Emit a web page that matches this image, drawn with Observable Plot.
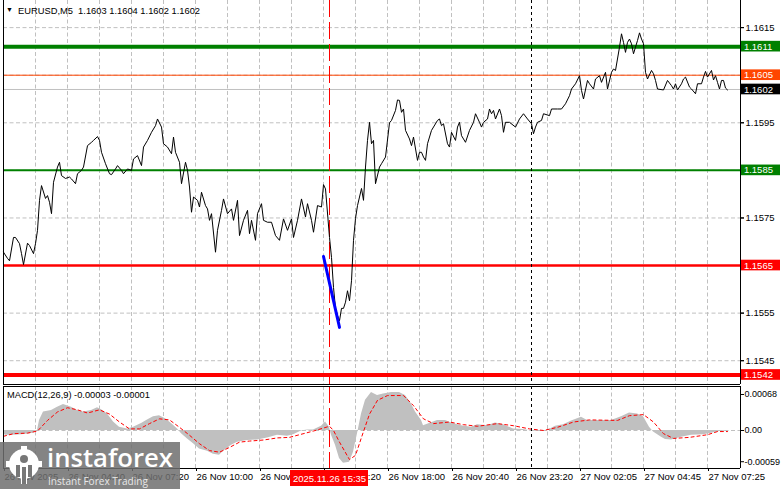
<!DOCTYPE html>
<html><head><meta charset="utf-8">
<script src="https://cdn.jsdelivr.net/npm/d3@7"></script>
<script src="https://cdn.jsdelivr.net/npm/@observablehq/plot@0.6"></script>
<style>
html,body{margin:0;padding:0;background:#fff;}
#wrap{position:relative;width:781px;height:489px;overflow:hidden;background:#fff;font-family:"Liberation Sans",Arial,sans-serif;color:#000;}
#wrap svg{position:absolute;left:0;}
.ttl{position:absolute;white-space:pre;line-height:12px;font-family:"Liberation Sans",Arial,sans-serif;}
#wm{position:absolute;left:0;top:442px;width:180px;height:47px;background:rgba(110,110,110,0.85);}
#wm .big{position:absolute;left:47px;top:-4px;font-family:"Open Sans",sans-serif;font-weight:600;color:#fff;white-space:pre;line-height:40px;}
#wm .small{position:absolute;left:48px;top:32px;font-family:"Open Sans",sans-serif;color:#e8e8e8;white-space:pre;line-height:14px;}
</style></head>
<body><div id="wrap"></div>
<script>
// ---------- data ----------
const symbol = "EURUSD,M5";
const ohlc = ["1.1603", "1.1604", "1.1602", "1.1602"];
const macdName = "MACD(12,26,9)";
const macdLast = ["-0.00003", "-0.00001"];

// close prices by bar index (5-minute bars)
const price = [
[0,1.15678],[2,1.15665],[3,1.15660],[5,1.15709],[6,1.15709],[8,1.15696],[9,1.15675],[10,1.15652],[12,1.15697],[13,1.15692],[15,1.15675],[16,1.15696],[17,1.15724],[18,1.15787],[19,1.15818],[21,1.15791],[22,1.15797],[23,1.15783],[24,1.15759],[25,1.15825],[27,1.15857],[28,1.15867],[29,1.15839],[31,1.15833],[33,1.15836],[34,1.15832],[36,1.15822],[37,1.15843],[39,1.15850],[40,1.15857],[42,1.15902],[44,1.15909],[45,1.15913],[47,1.15921],[48,1.15913],[49,1.15888],[51,1.15864],[53,1.15843],[54,1.15841],[56,1.15853],[57,1.15860],[59,1.15850],[60,1.15843],[62,1.15853],[64,1.15850],[65,1.15874],[67,1.15881],[69,1.15860],[70,1.15899],[72,1.15913],[74,1.15930],[76,1.15944],[77,1.15958],[79,1.15941],[80,1.15906],[82,1.15899],[84,1.15885],[85,1.15920],[86,1.15888],[88,1.15867],[89,1.15822],[91,1.15867],[92,1.15850],[93,1.15815],[94,1.15762],[95,1.15794],[97,1.15787],[98,1.15773],[99,1.15804],[101,1.15776],[102,1.15769],[103,1.15745],[104,1.15759],[106,1.15678],[107,1.15724],[109,1.15766],[110,1.15790],[112,1.15759],[114,1.15769],[115,1.15745],[117,1.15787],[118,1.15713],[120,1.15745],[122,1.15766],[123,1.15717],[124,1.15745],[126,1.15703],[127,1.15759],[129,1.15780],[130,1.15745],[132,1.15741],[134,1.15741],[136,1.15713],[138,1.15703],[140,1.15748],[142,1.15724],[144,1.15748],[145,1.15709],[147,1.15745],[149,1.15790],[151,1.15752],[152,1.15780],[154,1.15745],[155,1.15720],[157,1.15776],[159,1.15773],[160,1.15820],[161,1.15811],[163,1.15709],[164,1.15667],[165,1.15604],[166,1.15560],[167,1.15545],[168,1.15534],[169,1.15560],[170,1.15560],[171,1.15573],[172,1.15597],[173,1.15576],[174,1.15618],[175,1.15703],[176,1.15749],[177,1.15776],[178,1.15794],[179,1.15812],[180,1.15787],[181,1.15857],[182,1.15913],[183,1.15951],[184,1.15906],[185,1.15913],[186,1.15822],[188,1.15857],[189,1.15864],[191,1.15878],[193,1.15950],[194,1.15955],[196,1.15976],[197,1.15998],[198,1.15997],[199,1.15972],[200,1.15979],[201,1.15934],[203,1.15916],[204,1.15902],[205,1.15920],[207,1.15871],[208,1.15888],[209,1.15888],[210,1.15878],[211,1.15871],[212,1.15906],[214,1.15934],[217,1.15955],[218,1.15958],[219,1.15944],[220,1.15948],[222,1.15906],[223,1.15899],[224,1.15930],[226,1.15913],[227,1.15941],[228,1.15951],[229,1.15923],[231,1.15909],[233,1.15934],[235,1.15951],[236,1.15969],[238,1.15951],[239,1.15941],[240,1.15951],[242,1.15958],[243,1.15979],[244,1.15969],[245,1.15976],[246,1.15958],[248,1.15979],[249,1.15965],[250,1.15930],[251,1.15951],[253,1.15951],[256,1.15941],[258,1.15958],[260,1.15969],[262,1.15958],[264,1.15948],[265,1.15927],[266,1.15941],[267,1.15951],[269,1.15955],[270,1.15969],[273,1.15965],[274,1.15979],[277,1.15979],[279,1.15979],[281,1.15990],[283,1.16007],[284,1.16021],[286,1.16032],[288,1.16049],[289,1.16018],[290,1.16000],[292,1.16039],[293,1.16032],[295,1.16021],[296,1.16042],[298,1.16049],[299,1.16035],[301,1.16056],[302,1.16021],[304,1.16056],[305,1.16063],[306,1.16060],[308,1.16109],[309,1.16137],[310,1.16119],[311,1.16098],[312,1.16119],[313,1.16126],[314,1.16116],[315,1.16095],[316,1.16109],[317,1.16123],[318,1.16139],[319,1.16126],[320,1.16116],[321,1.16056],[322,1.16042],[324,1.16060],[325,1.16053],[326,1.16039],[327,1.16021],[330,1.16019],[332,1.16039],[334,1.16028],[335,1.16021],[336,1.16032],[337,1.16019],[339,1.16032],[340,1.16042],[341,1.16046],[343,1.16025],[344,1.16021],[346,1.16011],[347,1.16032],[349,1.16032],[350,1.16046],[351,1.16058],[352,1.16046],[354,1.16060],[355,1.16040],[356,1.16049],[357,1.16035],[358,1.16021],[359,1.16039],[360,1.16039],[361,1.16023],[362,1.16019]
];

// horizontal levels
const levelPrices = [1.1611, 1.1605, 1.1602, 1.1585, 1.1565, 1.1542];

// blue trend segment
const trendLine = [[160, 1.15669], [168, 1.15520]];

// price axis: tick marks, and the labels left visible beside the level boxes
const priceTicks = [1.1545, 1.1555, 1.1565, 1.1575, 1.1585, 1.1595, 1.1605, 1.1615];
const priceTickLabels = [1.1545, 1.1555, 1.1575, 1.1595, 1.1615];

// time axis
const timeTickBars = [0, 32, 64, 96, 128, 160, 192, 224, 256, 288, 320, 352];
const timeTickLabels = ["26 Nov 2025", "26 Nov 04:40", "26 Nov 07:20", "26 Nov 10:00", "26 Nov 12:40", "26 Nov 15:20",
  "26 Nov 18:00", "26 Nov 20:40", "26 Nov 23:20", "27 Nov 02:05", "27 Nov 04:45", "27 Nov 07:25"];
const gridBars = [16,32,48,64,80,96,112,128,144,160,176,192,208,224,240,256,272,288,304,320,336,352];

const cursorBar = 163;
const cursorLabel = "2025.11.26 15:35";
const separatorBar = 264;

// MACD main (histogram) and signal
const macdHist = [
[0,-0.00006],[1,-0.00009],[4,-0.00009],[9,-0.00008],[15,-0.00005],[17,0],[18,0.00019],[20,0.00035],[24,0.00038],[27,0.00044],[30,0.00049],[34,0.00044],[37,0.00038],[40,0.00035],[44,0.00038],[47,0.00043],[49,0.00039],[52,0.00031],[55,0.00016],[58,0.00006],[62,0.00003],[65,0.00006],[69,0.00013],[72,0.00020],[75,0.00026],[78,0.00028],[81,0.00022],[84,0.00013],[87,0.00003],[89,-0.00006],[92,-0.00016],[95,-0.00025],[98,-0.00035],[102,-0.00039],[105,-0.00045],[108,-0.00047],[110,-0.00039],[114,-0.00028],[117,-0.00022],[122,-0.00019],[127,-0.00018],[132,-0.00014],[137,-0.00009],[142,-0.00011],[145,-0.00008],[149,-0.00001],[152,0.00001],[155,0.00001],[159,0.00008],[161,0.00016],[163,0.00006],[164,-0.00009],[166,-0.00028],[168,-0.00053],[170,-0.00062],[173,-0.00060],[175,-0.00041],[177,-0.00006],[179,0.00031],[181,0.00057],[184,0.00072],[187,0.00066],[190,0.00069],[194,0.00072],[198,0.00072],[201,0.00066],[204,0.00050],[206,0.00035],[209,0.00019],[210,0.00009],[213,0.00013],[217,0.00019],[221,0.00019],[224,0.00014],[229,0.00009],[234,0.00006],[237,0.00011],[242,0.00009],[246,0.00014],[250,0.00011],[255,0.00003],[260,0.00002],[264,-0.00001],[268,-0.00002],[272,0],[276,0.00008],[280,0.00011],[284,0.00018],[289,0.00025],[292,0.00019],[297,0.00019],[304,0.00019],[309,0.00026],[313,0.00033],[317,0.00031],[320,0.00026],[323,0.00006],[325,-0.00003],[329,-0.00013],[331,-0.00017],[334,-0.00018],[339,-0.00013],[344,-0.00009],[350,-0.00008],[354,-0.00005],[358,-0.00002],[362,-0.00001]
];
const macdSignal = [
[0,-0.00011],[5,-0.00006],[12,-0.00005],[17,-0.00001],[22,0.00019],[27,0.00035],[32,0.00043],[37,0.00039],[42,0.00033],[48,0.00039],[53,0.00031],[58,0.00016],[63,0.00003],[68,0.00003],[73,0.00013],[78,0.00022],[83,0.00020],[88,0.00006],[93,-0.00009],[98,-0.00025],[103,-0.00038],[108,-0.00041],[113,-0.00032],[118,-0.00022],[123,-0.00020],[130,-0.00018],[137,-0.00014],[143,-0.00013],[148,-0.00008],[155,-0.00001],[163,0.00008],[165,0],[168,-0.00022],[173,-0.00055],[176,-0.00047],[179,-0.00013],[183,0.00031],[187,0.00057],[192,0.00066],[200,0.00066],[205,0.00047],[210,0.00022],[215,0.00013],[223,0.00016],[230,0.00011],[237,0.00008],[247,0.00013],[255,0.00009],[263,0.00003],[270,0],[277,0.00006],[285,0.00016],[293,0.00020],[307,0.00019],[313,0.00028],[320,0.00030],[325,0.00016],[330,-0.00006],[335,-0.00015],[343,-0.00013],[352,-0.00008],[357,-0.00002],[362,-0.00002]
];
const macdTicks = [0.00068, 0, -0.00059];
const macdTickLabels = ["0.00068", "0.00", "-0.00059"];

// ---------- styles ----------
const levelStyle = [
  {stroke: "#008000", width: 4, box: "#008000"},
  {stroke: "#ff4500", width: 1, box: "#ff4500"},
  {stroke: "#c0c0c0", width: 1, box: "#000000"},
  {stroke: "#008000", width: 2, box: "#008000"},
  {stroke: "#ff0000", width: 2.5, box: "#ff0000"},
  {stroke: "#ff0000", width: 4, box: "#ff0000"}
];
const GRID = {stroke: "#c0c0c0", strokeDasharray: "4,2.5", strokeWidth: 1};
const CURSOR = {stroke: "#ff0000", strokeDasharray: "17,5", strokeWidth: 1};
const X_DOMAIN = [0, 368.5];
const FONT = "Liberation Sans, Arial, sans-serif";
const BOX_X1 = 369, BOX_X2 = 388.5, BOX_H = 0.000112;

const wrap = document.getElementById("wrap");

// ---------- main price panel ----------
const levelMarks = levelPrices.map((p, i) =>
  Plot.ruleY([p], {stroke: levelStyle[i].stroke, strokeWidth: levelStyle[i].width}));
const boxMarks = levelPrices.flatMap((p, i) => [
  Plot.rect([p], {x1: () => BOX_X1, x2: () => BOX_X2, y1: d => d - BOX_H, y2: d => d + BOX_H, fill: levelStyle[i].box}),
  Plot.text([p], {x: () => BOX_X1 + 1.2, y: d => d, text: d => d.toFixed(4), fill: "white", textAnchor: "start", fontSize: 9.5})
]);

const main = Plot.plot({
  width: 781, height: 386,
  marginLeft: 3, marginRight: 41, marginTop: 0, marginBottom: 2,
  x: {domain: X_DOMAIN, axis: null},
  y: {domain: [1.15400, 1.16207], axis: null},
  style: {fontFamily: FONT, fontSize: "9.5px", color: "black", background: "transparent"},
  marks: [
    Plot.ruleX(gridBars, GRID),
    Plot.ruleY(priceTicks, GRID),
    ...levelMarks,
    Plot.ruleX([separatorBar], {stroke: "black", strokeDasharray: "3,3"}),
    Plot.ruleX([cursorBar], CURSOR),
    Plot.line(price, {x: d => d[0], y: d => d[1], stroke: "black", strokeWidth: 1}),
    Plot.line(trendLine, {x: d => d[0], y: d => d[1], stroke: "#0000ff", strokeWidth: 3}),
    Plot.ruleX([0], {stroke: "black"}),
    Plot.ruleX([X_DOMAIN[1]], {stroke: "black"}),
    Plot.ruleY([1.15400], {stroke: "black"}),
    Plot.axisY(priceTicks, {anchor: "right", tickSize: 3, text: null}),
    Plot.axisY(priceTickLabels, {anchor: "right", tickSize: 3, tickPadding: 2, tickFormat: d => d.toFixed(4), fontSize: 9.5}),
    ...boxMarks
  ]
});
main.style.top = "0px";
wrap.appendChild(main);

// ---------- MACD panel ----------
const macd = Plot.plot({
  width: 781, height: 106,
  marginLeft: 3, marginRight: 41, marginTop: 3, marginBottom: 21,
  x: {domain: X_DOMAIN, axis: null},
  y: {domain: [-0.000718, 0.000831], axis: null},
  style: {fontFamily: FONT, fontSize: "9.5px", color: "black", background: "transparent"},
  marks: [
    Plot.ruleX(gridBars, GRID),
    Plot.ruleY([0], GRID),
    Plot.areaY(macdHist, {x: d => d[0], y: d => d[1], fill: "#c0c0c0"}),
    Plot.line(macdSignal, {x: d => d[0], y: d => d[1], stroke: "#ff0000", strokeDasharray: "3,3", strokeWidth: 1}),
    Plot.ruleX([separatorBar], {stroke: "black", strokeDasharray: "3,3"}),
    Plot.ruleX([cursorBar], CURSOR),
    Plot.ruleX([0], {stroke: "black"}),
    Plot.ruleX([X_DOMAIN[1]], {stroke: "black"}),
    Plot.ruleY([-0.000718], {stroke: "black"}),
    Plot.ruleY([0.000831], {stroke: "black"}),
    Plot.axisY(macdTicks, {anchor: "right", tickSize: 3, tickPadding: 1,
      tickFormat: d => macdTickLabels[macdTicks.indexOf(d)], fontSize: 9}),
    Plot.axisX(timeTickBars, {anchor: "bottom", tickSize: 3, tickPadding: 2,
      tickFormat: d => timeTickLabels[timeTickBars.indexOf(d)], textAnchor: "start", dx: 1, fontSize: 9.5}),
    Plot.rect([cursorBar], {x1: d => d - 19.5, x2: d => d + 19.5, y1: () => -0.001058, y2: () => -0.000756, fill: "#ff0000"}),
    Plot.text([cursorLabel], {x: () => cursorBar, y: () => -0.000907, text: d => d, fill: "white", fontSize: 9.5})
  ]
});
macd.style.top = "383px";
wrap.appendChild(macd);

// ---------- text fitting helper ----------
const ctx = document.createElement("canvas").getContext("2d");
function fitSize(text, family, weight, target) {
  ctx.font = weight + " 100px " + family;
  return 100 * target / ctx.measureText(text).width;
}
function addText(cls, text, left, top, family, weight, target, parent) {
  const el = document.createElement("div");
  el.className = cls;
  el.textContent = text;
  if (left !== null) { el.style.left = left + "px"; el.style.top = top + "px"; }
  el.style.fontSize = fitSize(text, family, weight, target).toFixed(2) + "px";
  (parent || wrap).appendChild(el);
  return el;
}

// ---------- titles ----------
const tri = document.createElement("div");
tri.className = "ttl";
tri.style.left = "6px"; tri.style.top = "4px"; tri.style.fontSize = "7px";
tri.textContent = "\u25BC";
wrap.appendChild(tri);

addText("ttl", symbol + "  " + ohlc.join(" "), 18, 5, '"Liberation Sans"', "400", 182);
addText("ttl", macdName + " " + macdLast.join(" "), 7, 389, '"Liberation Sans"', "400", 143);

// ---------- watermark ----------
const wm = document.createElement("div");
wm.id = "wm";
wm.innerHTML =
  '<svg width="44" height="40" style="position:absolute;left:4px;top:4px" viewBox="0 0 44 40">' +
  '<g fill="#fff"><circle cx="20" cy="18" r="15"/>' +
  '<rect x="17" y="0" width="6" height="6"/><rect x="17" y="30" width="6" height="8"/>' +
  '<rect x="2" y="15" width="6" height="6"/><rect x="32" y="15" width="6" height="6"/></g>' +
  '<g fill="#777"><circle cx="20" cy="13" r="4"/><rect x="12" y="19" width="4" height="12"/><rect x="24" y="19" width="4" height="12"/>' +
  '<rect x="18" y="21" width="4" height="17"/></g></svg>';
wrap.appendChild(wm);
addText("big", "instaforex", null, null, '"Open Sans"', "600", 126, wm);
addText("small", "Instant Forex Trading", null, null, '"Open Sans"', "400", 100, wm);
</script>
</body></html>
